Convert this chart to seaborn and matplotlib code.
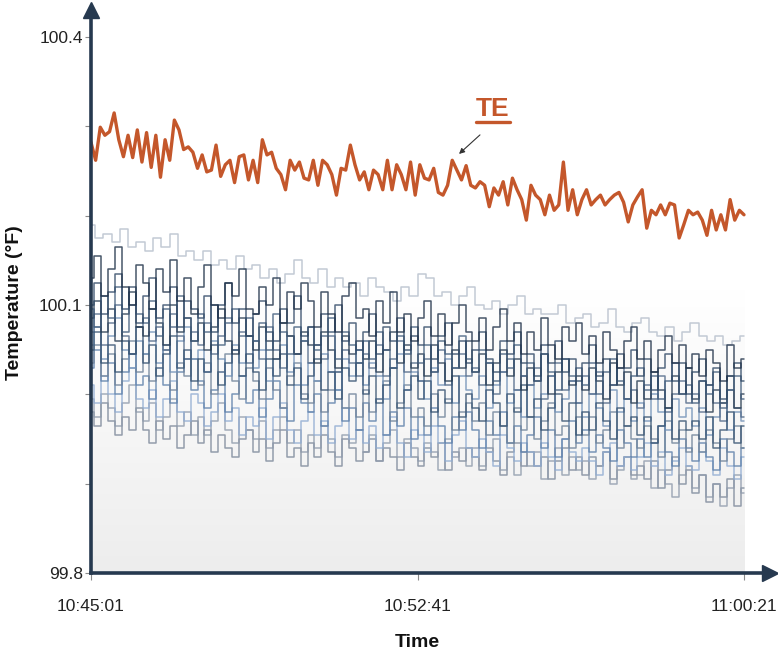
import numpy as np
import pandas as pd
import matplotlib
matplotlib.use("Agg")
import matplotlib.pyplot as plt
from matplotlib.colors import LinearSegmentedColormap
from matplotlib.lines import Line2D
import seaborn as sns

# --- data (deg F) ---
duration = 920  # seconds, 10:45:01 -> 11:00:21
tick_secs = [0, 460, 920]
tick_labels = ["10:45:01", "10:52:41", "11:00:21"]
y_major = [99.8, 100.1, 100.4]
y_minor = [99.9, 100.0, 100.2, 100.3]

te = [100.282, 100.262, 100.299, 100.290, 100.294, 100.315, 100.285, 100.266, 100.290, 100.265,
      100.296, 100.260, 100.293, 100.254, 100.290, 100.243, 100.285, 100.262, 100.307, 100.296,
      100.274, 100.277, 100.271, 100.253, 100.268, 100.249, 100.251, 100.279, 100.244, 100.257,
      100.262, 100.237, 100.266, 100.268, 100.240, 100.262, 100.237, 100.285, 100.268, 100.271,
      100.253, 100.246, 100.229, 100.262, 100.251, 100.260, 100.242, 100.240, 100.262, 100.234,
      100.262, 100.257, 100.246, 100.223, 100.253, 100.251, 100.279, 100.257, 100.240, 100.249,
      100.229, 100.251, 100.246, 100.229, 100.262, 100.229, 100.257, 100.246, 100.229, 100.260,
      100.223, 100.257, 100.242, 100.240, 100.253, 100.226, 100.223, 100.234, 100.262, 100.251,
      100.240, 100.256, 100.234, 100.231, 100.238, 100.234, 100.210, 100.231, 100.223, 100.238,
      100.212, 100.242, 100.229, 100.218, 100.195, 100.234, 100.223, 100.218, 100.201, 100.223,
      100.206, 100.212, 100.260, 100.206, 100.229, 100.201, 100.218, 100.229, 100.212, 100.218,
      100.223, 100.212, 100.218, 100.223, 100.226, 100.215, 100.193, 100.212, 100.221, 100.229,
      100.186, 100.206, 100.201, 100.212, 100.201, 100.214, 100.212, 100.175, 100.190, 100.206,
      100.201, 100.204, 100.195, 100.178, 100.206, 100.184, 100.201, 100.184, 100.218, 100.195,
      100.206, 100.201]

upper = [100.19, 100.175, 100.18, 100.17, 100.185, 100.165, 100.17, 100.16, 100.175, 100.165,
         100.18, 100.155, 100.16, 100.15, 100.16, 100.145, 100.15, 100.14, 100.155, 100.14,
         100.145, 100.13, 100.14, 100.125, 100.135, 100.15, 100.13, 100.125, 100.14, 100.12,
         100.13, 100.12, 100.125, 100.11, 100.13, 100.12, 100.115, 100.105, 100.12, 100.11,
         100.135, 100.13, 100.11, 100.115, 100.10, 100.11, 100.12, 100.10, 100.095, 100.105,
         100.09, 100.10, 100.11, 100.09, 100.095, 100.09, 100.09, 100.10, 100.08, 100.085,
         100.09, 100.075, 100.08, 100.095, 100.075, 100.07, 100.08, 100.085, 100.07, 100.065,
         100.075, 100.06, 100.07, 100.08, 100.065, 100.06, 100.065, 100.055, 100.06, 100.065]

s1 = [100.13, 100.155, 100.11, 100.14, 100.165, 100.12, 100.10, 100.145,
      100.125, 100.095, 100.14, 100.115, 100.15, 100.105, 100.13, 100.09,
      100.12, 100.145, 100.10, 100.085, 100.125, 100.11, 100.14, 100.095,
      100.09, 100.12, 100.10, 100.13, 100.08, 100.115, 100.095, 100.125,
      100.105, 100.075, 100.115, 100.09, 100.07, 100.11, 100.125, 100.085,
      100.095, 100.065, 100.105, 100.08, 100.115, 100.07, 100.09, 100.06,
      100.085, 100.105, 100.065, 100.09, 100.055, 100.08, 100.10, 100.07,
      100.06, 100.085, 100.05, 100.075, 100.095, 100.06, 100.08, 100.045,
      100.07, 100.05, 100.085, 100.055, 100.04, 100.075, 100.06, 100.08,
      100.045, 100.065, 100.035, 100.07, 100.05, 100.03, 100.06, 100.075,
      100.04, 100.06, 100.025, 100.05, 100.065, 100.035, 100.055, 100.03,
      100.045, 100.02, 100.05, 100.035, 100.015, 100.055, 100.03, 100.04]
s2 = [100.10, 100.125, 100.09, 100.115, 100.135, 100.095, 100.12, 100.08,
      100.11, 100.13, 100.085, 100.10, 100.12, 100.075, 100.105, 100.095,
      100.085, 100.11, 100.07, 100.10, 100.125, 100.08, 100.095, 100.065,
      100.09, 100.105, 100.07, 100.06, 100.095, 100.08, 100.11, 100.065,
      100.075, 100.055, 100.09, 100.07, 100.10, 100.06, 100.08, 100.05,
      100.07, 100.09, 100.045, 100.075, 100.06, 100.085, 100.05, 100.065,
      100.055, 100.075, 100.04, 100.065, 100.08, 100.045, 100.06, 100.035,
      100.05, 100.07, 100.04, 100.025, 100.06, 100.045, 100.07, 100.035,
      100.045, 100.02, 100.055, 100.035, 100.06, 100.025, 100.04, 100.015,
      100.035, 100.055, 100.02, 100.04, 100.01, 100.045, 100.03, 100.05,
      100.02, 100.04, 100.005, 100.03, 100.045, 100.015, 100.035, 100.00,
      100.025, 100.04, 100.01, 100.03, 99.995, 100.02, 100.035, 100.015]
s3 = [100.095, 100.075, 100.11, 100.085, 100.12, 100.07, 100.10, 100.09,
      100.08, 100.105, 100.065, 100.095, 100.075, 100.11, 100.085, 100.06,
      100.09, 100.07, 100.10, 100.055, 100.08, 100.095, 100.065, 100.085,
      100.06, 100.08, 100.05, 100.09, 100.07, 100.045, 100.075, 100.06,
      100.075, 100.05, 100.065, 100.085, 100.04, 100.07, 100.055, 100.035,
      100.06, 100.04, 100.07, 100.05, 100.03, 100.065, 100.045, 100.075,
      100.035, 100.055, 100.025, 100.06, 100.045, 100.03, 100.065, 100.04,
      100.025, 100.05, 100.035, 100.015, 100.045, 100.03, 100.055, 100.02,
      100.035, 100.015, 100.045, 100.025, 100.005, 100.04, 100.02, 100.03,
      100.01, 100.035, 100.00, 100.025, 100.04, 100.015, 99.995, 100.02,
      100.03, 100.005, 100.02, 99.995, 100.015, 100.035, 100.00, 100.01,
      99.99, 100.015, 100.00, 100.025, 99.985, 100.005, 100.02, 99.995]
s4 = [100.085, 100.105, 100.07, 100.095, 100.06, 100.09, 100.115, 100.075,
      100.065, 100.095, 100.08, 100.055, 100.10, 100.07, 100.085, 100.06,
      100.08, 100.05, 100.075, 100.095, 100.06, 100.045, 100.085, 100.065,
      100.05, 100.075, 100.06, 100.04, 100.08, 100.065, 100.045, 100.07,
      100.055, 100.035, 100.07, 100.05, 100.03, 100.065, 100.045, 100.06,
      100.04, 100.06, 100.025, 100.05, 100.07, 100.035, 100.055, 100.03,
      100.045, 100.02, 100.055, 100.035, 100.015, 100.05, 100.03, 100.06,
      100.025, 100.045, 100.01, 100.035, 100.05, 100.02, 100.04, 100.005,
      100.03, 100.015, 100.045, 100.00, 100.025, 100.04, 100.01, 100.02,
      100.005, 100.03, 100.015, 99.995, 100.035, 100.01, 100.025, 99.99,
      100.015, 99.995, 100.025, 100.005, 99.985, 100.02, 100.00, 100.03,
      99.995, 100.015, 99.98, 100.005, 99.99, 100.02, 99.985, 100.00]
s5 = [100.07, 100.09, 100.055, 100.08, 100.10, 100.065, 100.045, 100.075,
      100.085, 100.06, 100.075, 100.05, 100.09, 100.065, 100.04, 100.07,
      100.055, 100.08, 100.045, 100.065, 100.085, 100.05, 100.07, 100.035,
      100.06, 100.04, 100.075, 100.05, 100.03, 100.065, 100.045, 100.06,
      100.035, 100.055, 100.04, 100.065, 100.025, 100.05, 100.035, 100.02,
      100.045, 100.03, 100.055, 100.02, 100.04, 100.06, 100.025, 100.035,
      100.015, 100.04, 100.025, 100.05, 100.01, 100.03, 100.045, 100.02,
      100.03, 100.01, 100.035, 100.00, 100.025, 100.04, 100.005, 100.02,
      100.01, 100.03, 99.995, 100.02, 100.035, 100.005, 100.015, 99.99,
      100.02, 100.00, 100.025, 99.99, 100.01, 100.03, 99.995, 100.005,
      99.985, 100.01, 99.995, 100.02, 99.98, 100.00, 100.015, 99.99,
      100.00, 99.98, 100.01, 99.99, 99.97, 100.005, 99.985, 99.975]
s6 = [100.055, 100.075, 100.04, 100.065, 100.085, 100.05, 100.03, 100.06,
      100.045, 100.07, 100.035, 100.055, 100.025, 100.06, 100.075, 100.04,
      100.05, 100.025, 100.06, 100.04, 100.02, 100.055, 100.035, 100.065,
      100.03, 100.05, 100.015, 100.04, 100.055, 100.025, 100.045, 100.01,
      100.035, 100.015, 100.045, 100.025, 100.005, 100.04, 100.02, 100.05,
      100.01, 100.035, 100.02, 99.995, 100.03, 100.045, 100.005, 100.025,
      100.015, 99.995, 100.03, 100.01, 100.04, 99.99, 100.02, 100.005,
      99.995, 100.02, 99.985, 100.01, 100.025, 99.99, 100.005, 99.975,
      100.01, 99.985, 100.00, 100.02, 99.98, 99.995, 100.015, 99.99,
      99.975, 100.00, 99.985, 99.965, 100.005, 99.98, 99.995, 99.97,
      99.99, 99.97, 100.00, 99.98, 99.96, 99.995, 99.975, 99.985,
      99.965, 99.985, 99.955, 99.975, 99.99, 99.96, 99.98, 99.97]
s7 = [100.05, 100.07, 100.035, 100.055, 100.025, 100.06, 100.045, 100.075,
      100.035, 100.055, 100.02, 100.045, 100.065, 100.03, 100.05, 100.015,
      100.04, 100.025, 100.055, 100.01, 100.035, 100.05, 100.02, 100.045,
      100.025, 100.005, 100.04, 100.02, 100.045, 100.01, 100.03, 99.995,
      100.02, 100.04, 100.005, 100.025, 99.995, 100.03, 100.015, 100.035,
      100.00, 100.02, 99.99, 100.01, 100.03, 99.985, 100.005, 100.02,
      99.995, 100.015, 99.98, 100.005, 99.99, 100.02, 99.975, 100.00,
      99.985, 99.97, 100.005, 99.99, 99.965, 100.00, 99.98, 100.01,
      99.975, 99.995, 99.96, 99.985, 100.00, 99.97, 99.99, 99.955,
      99.98, 99.96, 99.99, 99.97, 99.95, 99.985, 99.965, 99.975,
      99.955, 99.975, 99.945, 99.965, 99.985, 99.95, 99.97, 99.96,
      99.97, 99.95, 99.975, 99.94, 99.96, 99.98, 99.945, 99.965]
s8 = [100.035, 100.055, 100.02, 100.045, 100.01, 100.04, 100.06, 100.025,
      100.045, 100.015, 100.03, 100.05, 100.005, 100.035, 100.02, 100.04,
      100.01, 100.035, 100.00, 100.025, 100.045, 100.015, 99.995, 100.03,
      100.015, 99.995, 100.03, 100.005, 99.985, 100.02, 100.035, 100.00,
      99.99, 100.015, 99.98, 100.005, 100.025, 99.985, 100.00, 99.975,
      100.005, 99.98, 99.995, 100.015, 99.97, 99.99, 100.01, 99.975,
      99.985, 99.965, 100.00, 99.975, 99.995, 99.96, 99.98, 99.99,
      99.97, 99.99, 99.955, 99.98, 99.965, 99.945, 99.985, 99.96,
      99.975, 99.95, 99.97, 99.99, 99.955, 99.965, 99.94, 99.975,
      99.955, 99.975, 99.945, 99.96, 99.98, 99.94, 99.965, 99.95,
      99.94, 99.965, 99.95, 99.93, 99.97, 99.945, 99.96, 99.935,
      99.955, 99.935, 99.96, 99.945, 99.925, 99.95, 99.965, 99.94]
s9 = [100.03, 100.05, 100.015, 100.035, 100.00, 100.025, 100.045, 100.01,
      100.02, 99.995, 100.03, 100.01, 99.99, 100.025, 100.04, 100.005,
      100.015, 99.985, 100.005, 100.025, 99.98, 100.00, 100.02, 99.99,
      100.005, 99.975, 99.995, 100.015, 99.985, 99.97, 100.01, 99.99,
      99.98, 100.00, 99.965, 99.99, 100.005, 99.97, 99.985, 99.96,
      99.99, 99.97, 99.995, 99.955, 99.98, 99.965, 99.985, 99.95,
      99.975, 99.955, 99.985, 99.965, 99.945, 99.975, 99.96, 99.98,
      99.96, 99.94, 99.97, 99.955, 99.98, 99.945, 99.965, 99.935,
      99.955, 99.975, 99.94, 99.96, 99.93, 99.95, 99.97, 99.945,
      99.96, 99.935, 99.955, 99.94, 99.925, 99.96, 99.945, 99.93,
      99.95, 99.93, 99.945, 99.965, 99.935, 99.92, 99.95, 99.94,
      99.925, 99.945, 99.93, 99.915, 99.95, 99.935, 99.92, 99.94]
s10 = [100.01, 99.99, 100.02, 100.00, 99.98, 100.015, 100.03, 99.995,
       99.985, 100.005, 99.975, 99.995, 100.015, 99.98, 99.97, 100.00,
       99.99, 99.965, 99.98, 100.00, 99.97, 99.985, 99.955, 99.975,
       99.965, 99.985, 99.95, 99.975, 99.99, 99.96, 99.945, 99.97,
       99.98, 99.955, 99.97, 99.945, 99.965, 99.985, 99.95, 99.96,
       99.945, 99.965, 99.94, 99.955, 99.975, 99.945, 99.93, 99.96,
       99.955, 99.935, 99.965, 99.945, 99.925, 99.955, 99.97, 99.94,
       99.93, 99.95, 99.935, 99.92, 99.955, 99.94, 99.925, 99.945,
       99.935, 99.92, 99.945, 99.93, 99.915, 99.95, 99.935, 99.925,
       99.94, 99.925, 99.91, 99.935, 99.945, 99.92, 99.93, 99.915,
       99.93, 99.945, 99.92, 99.935, 99.91, 99.925, 99.94, 99.92,
       99.915, 99.935, 99.925, 99.91, 99.94, 99.92, 99.905, 99.93]
s11 = [99.995, 99.975, 100.00, 99.985, 99.965, 99.99, 100.01, 99.98,
       99.97, 99.99, 99.96, 99.975, 99.995, 99.965, 99.98, 99.955,
       99.975, 99.955, 99.97, 99.99, 99.96, 99.945, 99.975, 99.96,
       99.95, 99.97, 99.94, 99.96, 99.975, 99.945, 99.96, 99.935,
       99.955, 99.94, 99.965, 99.95, 99.93, 99.955, 99.945, 99.96,
       99.935, 99.955, 99.925, 99.945, 99.96, 99.93, 99.95, 99.94,
       99.925, 99.945, 99.935, 99.915, 99.95, 99.93, 99.94, 99.92,
       99.94, 99.92, 99.935, 99.95, 99.915, 99.93, 99.91, 99.935,
       99.92, 99.935, 99.905, 99.925, 99.94, 99.91, 99.93, 99.915,
       99.925, 99.905, 99.92, 99.935, 99.90, 99.915, 99.93, 99.905,
       99.91, 99.925, 99.895, 99.915, 99.90, 99.885, 99.91, 99.92,
       99.895, 99.91, 99.885, 99.90, 99.875, 99.895, 99.91, 99.89]
s12 = [99.98, 99.965, 99.99, 99.97, 99.955, 99.975, 99.96, 99.985,
       99.96, 99.945, 99.97, 99.95, 99.965, 99.94, 99.955, 99.97,
       99.945, 99.96, 99.935, 99.955, 99.94, 99.93, 99.95, 99.96,
       99.935, 99.95, 99.925, 99.945, 99.96, 99.93, 99.94, 99.92,
       99.945, 99.93, 99.955, 99.935, 99.92, 99.95, 99.94, 99.925,
       99.935, 99.95, 99.925, 99.94, 99.93, 99.915, 99.945, 99.93,
       99.92, 99.94, 99.93, 99.945, 99.915, 99.935, 99.925, 99.94,
       99.93, 99.915, 99.94, 99.925, 99.91, 99.935, 99.945, 99.92,
       99.935, 99.92, 99.93, 99.905, 99.925, 99.94, 99.915, 99.93,
       99.91, 99.93, 99.92, 99.935, 99.905, 99.92, 99.93, 99.91,
       99.92, 99.905, 99.925, 99.895, 99.915, 99.93, 99.90, 99.915,
       99.89, 99.91, 99.88, 99.90, 99.885, 99.905, 99.875, 99.895]

others = {"upper": upper, "s12": s12, "s11": s11, "s10": s10, "s9": s9, "s8": s8,
          "s6": s6, "s5": s5, "s7": s7, "s4": s4, "s3": s3, "s2": s2, "s1": s1}
palette = {"upper": "#b4bdca", "s12": "#7b8799", "s11": "#8e9aab", "s10": "#8fabd1",
           "s9": "#5b7ea9", "s8": "#6d8198", "s6": "#6e8fb6", "s5": "#4e6686",
           "s7": "#33506f", "s4": "#25394f", "s3": "#3e5a7a", "s2": "#2d4664",
           "s1": "#1b2d45"}

frames = []
for name, vals in others.items():
    frames.append(pd.DataFrame({"t": np.linspace(0, duration, len(vals)),
                                "temp": vals, "sensor": name}))
df = pd.concat(frames, ignore_index=True)
te_df = pd.DataFrame({"t": np.linspace(0, duration, len(te)), "temp": te})

# --- figure ---
sns.set_theme(style="white")
plt.rcParams["font.family"] = ["Liberation Sans", "DejaVu Sans"]

W, H = 778, 653
fig = plt.figure(figsize=(W / 100, H / 100), dpi=100)
ax = fig.add_axes([91 / W, 80 / H, 679 / W, 563 / H])

x_hi = duration * 679 / 653
y_hi = 99.8 + 0.6 * 563 / 536

# soft vertical gradient behind the data area
grad = np.linspace(0, 1, 256).reshape(-1, 1)
cmap = LinearSegmentedColormap.from_list("bg", ["#ffffff", "#ffffff", "#ededed"])
ax.imshow(grad, cmap=cmap, aspect="auto", extent=(0, duration, 99.8, y_hi),
          origin="upper", zorder=0)

sns.lineplot(data=df, x="t", y="temp", hue="sensor", palette=palette,
             hue_order=list(others.keys()), estimator=None, legend=False,
             lw=1.1, alpha=0.8, drawstyle="steps-mid", ax=ax)
sns.lineplot(data=te_df, x="t", y="temp", color="#c4572b", lw=2.4, ax=ax)

ax.set_xlim(0, x_hi)
ax.set_ylim(99.8, y_hi)

# axes: only left and bottom, with arrow heads
axis_col = "#26394f"
for side in ["top", "right"]:
    ax.spines[side].set_visible(False)
for side in ["left", "bottom"]:
    ax.spines[side].set_color(axis_col)
    ax.spines[side].set_linewidth(2.6)
ax.plot(0, 1, marker="^", ms=11, color=axis_col, transform=ax.transAxes, clip_on=False)
ax.plot(1, 0, marker=">", ms=11, color=axis_col, transform=ax.transAxes, clip_on=False)

ax.set_yticks(y_major)
ax.set_yticklabels([f"{v:.1f}" for v in y_major])
ax.set_yticks(y_minor, minor=True)
ax.set_xticks(tick_secs)
ax.set_xticklabels(tick_labels)
ax.tick_params(axis="y", which="both", left=True, length=4, width=0.8, color="#8a8a8a",
               pad=2, labelsize=12.5, labelcolor="#222222")
ax.tick_params(axis="x", bottom=True, length=5, width=0.8, color="#8a8a8a",
               pad=14, labelsize=12.5, labelcolor="#222222")

ax.set_ylabel("Temperature (\u00b0F)", fontsize=14, fontweight="bold", color="#111111")
ax.yaxis.set_label_coords(-0.1, 0.48)
ax.set_xlabel("Time", fontsize=14, fontweight="bold", color="#111111")
ax.xaxis.set_label_coords(0.48, -0.108)

# TE callout
ax.annotate("", xy=(515.6, 100.267), xytext=(550.9, 100.2925),
            arrowprops=dict(arrowstyle="-|>", color="#333333", lw=0.8, mutation_scale=8))
te_txt = ax.text(566.4, 100.319, "TE", color="#c4572b", fontsize=19, fontweight="bold",
                 ha="center", va="center")

fig.canvas.draw()
bb = te_txt.get_window_extent(renderer=fig.canvas.get_renderer())
uy = (bb.y0 - 1) / H
fig.add_artist(Line2D([bb.x0 / W, bb.x1 / W], [uy, uy], color="#c4572b", lw=2.4))

fig.savefig("out.png", dpi=100)
